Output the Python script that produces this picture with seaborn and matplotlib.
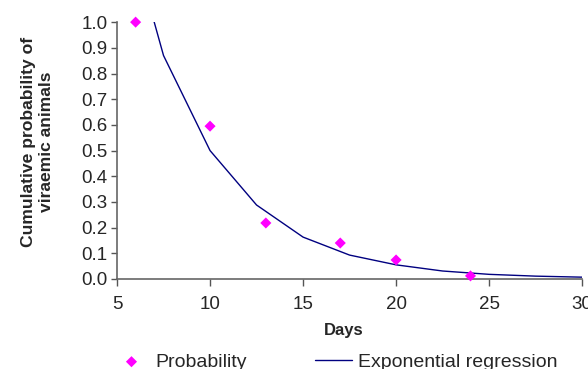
import matplotlib
matplotlib.use("Agg")
import matplotlib.pyplot as plt
import pandas as pd
import seaborn as sns

# observed cumulative probability of viraemic animals
days = [6, 10, 13, 17, 20, 24]
probability = [1.0, 0.595, 0.218, 0.14, 0.074, 0.012]

# fitted exponential regression
fit_days = [5, 7.5, 10, 12.5, 15, 17.5, 20, 22.5, 25, 27.5, 30]
fit_prob = [1.52, 0.87, 0.50, 0.288, 0.163, 0.093, 0.055, 0.031, 0.018, 0.011, 0.007]

obs = pd.DataFrame({"Days": days, "p": probability})
fit = pd.DataFrame({"Days": fit_days, "p": fit_prob})

sns.set_style("white")
plt.rcParams["font.family"] = ["Liberation Sans", "DejaVu Sans"]

fig = plt.figure(figsize=(5.88, 3.69), dpi=100)
ax = fig.add_axes([0.199, 0.244, 0.791, 0.696])

sns.lineplot(data=fit, x="Days", y="p", ax=ax, color="#000080", linewidth=1.0,
             label="Exponential regression")
sns.scatterplot(data=obs, x="Days", y="p", ax=ax, color="#ff00ff", marker="D",
                s=32, edgecolor="none", label="Probability", zorder=3, clip_on=False)

ax.set_xlim(5, 30)
ax.set_ylim(0, 1.0)
ax.set_xticks([5, 10, 15, 20, 25, 30])
ax.set_yticks([i / 10 for i in range(11)])
ax.set_yticklabels([f"{i / 10:.1f}" for i in range(11)])
ax.tick_params(axis="both", labelsize=13.5, length=4, width=1, color="#555555",
               direction="out", bottom=True, left=True)
ax.tick_params(axis="x", pad=7, length=5)
ax.tick_params(axis="y", pad=3)

for s in ["top", "right"]:
    ax.spines[s].set_visible(False)
for s in ["left", "bottom"]:
    ax.spines[s].set_color("#666666")
    ax.spines[s].set_linewidth(1.2)

ax.set_xlabel("Days", fontsize=12, fontweight="bold")
ax.xaxis.set_label_coords(0.487, -0.17)
ax.set_ylabel("Cumulative probability of\nviraemic animals", fontsize=12.6,
              fontweight="bold", linespacing=1.25)
ax.yaxis.set_label_coords(-0.136, 0.533)

h, l = ax.get_legend_handles_labels()
order = [l.index("Probability"), l.index("Exponential regression")]
ax.get_legend().remove()
fig.legend([h[i] for i in order], [l[i] for i in order], loc="center left",
           bbox_to_anchor=(113 / 588, 1 - 362 / 369), ncol=2, frameon=False,
           fontsize=14, handlelength=1.9, handletextpad=0.3, columnspacing=3.5,
           borderpad=0, borderaxespad=0)

fig.savefig("out.png", dpi=100)
